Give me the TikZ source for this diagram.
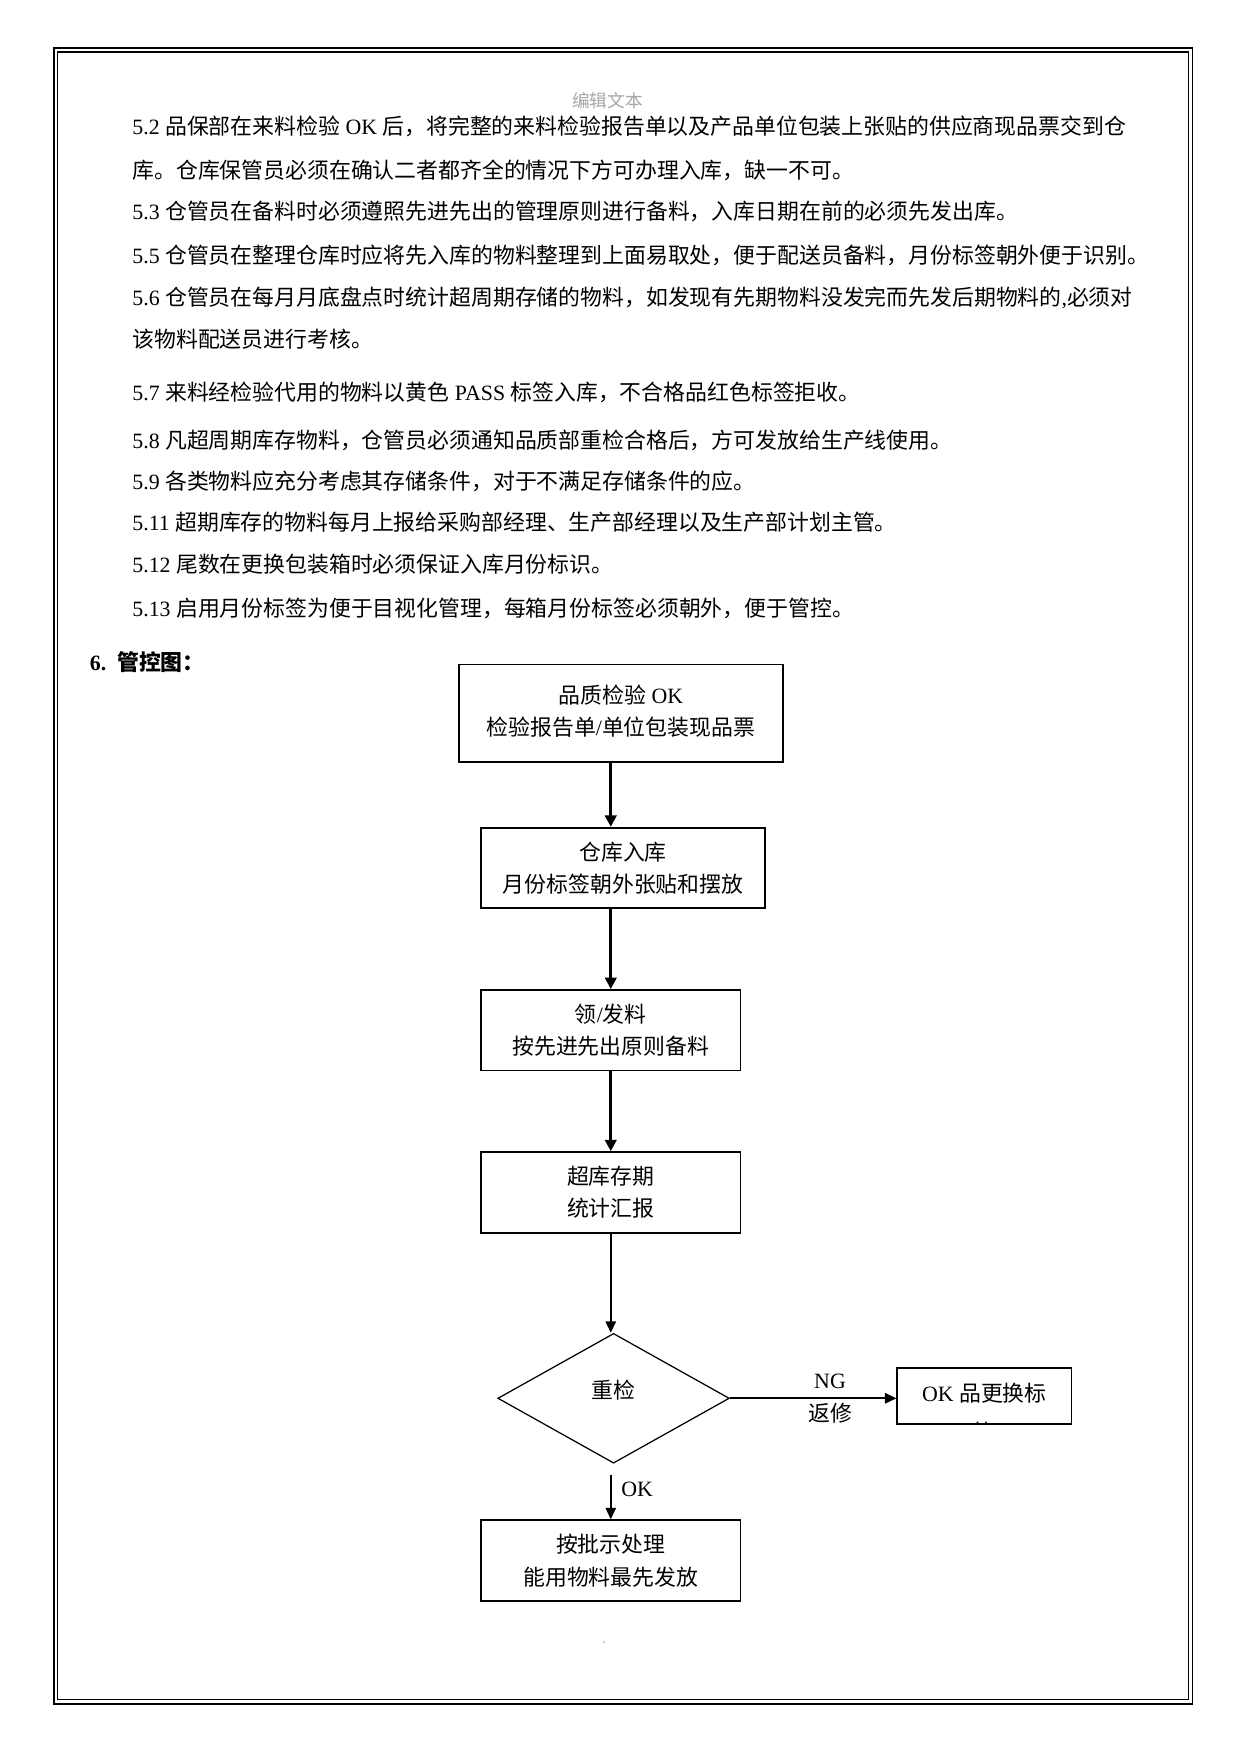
\documentclass[tikz,border=0pt]{standalone}
\usepackage{fontspec}
\setmainfont{Liberation Serif}
\newfontfamily\cjk{Noto Sans CJK SC}
\usetikzlibrary{shapes.geometric,arrows.meta}
\newcommand\zh[1]{{\cjk #1}}
\newdimen\pu \pu=0.5372pt
\tikzset{
  bodyline/.style={anchor=west,inner sep=0pt,font=\fontsize{10.5}{12}\selectfont},
  flowbox/.style={draw,line width=0.9pt,rectangle,inner sep=0pt,align=center,font=\fontsize{10.5}{15.6}\selectfont},
  thickarrow/.style={line width=1.5pt,-{Triangle[length=5.5pt,width=5.5pt]}},
  thinarrow/.style={line width=0.8pt,-{Triangle[length=5.5pt,width=5pt]}},
  lbl/.style={inner sep=0pt,font=\fontsize{10.5}{12}\selectfont}
}
\begin{document}
\begin{tikzpicture}[x=0.5372pt,y=-0.5372pt]
\useasboundingbox (0,0) rectangle (1109,1568);
% page border (double)
\draw[line width=0.9pt] (48,43) rectangle (1066,1523);
\draw[line width=0.5pt] (51.5,46.5) rectangle (1062.5,1519.5);
% header
\node[inner sep=0pt,text=black!35,font=\fontsize{8.5}{10}\selectfont] (hdr) at (543,90) {\zh{编辑文本}};
% body text
\node[bodyline] (t1) at (118,113) {5.2 \zh{品保部在来料检验} OK \zh{后，将完整的来料检验报告单以及产品单位包装上张贴的供应商现品票交到仓}};
\node[bodyline] (t2) at (118,152) {\zh{库。仓库保管员必须在确认二者都齐全的情况下方可办理入库，缺一不可。}};
\node[bodyline] (t3) at (118,189) {5.3 \zh{仓管员在备料时必须遵照先进先出的管理原则进行备料，入库日期在前的必须先发出库。}};
\node[bodyline] (t4) at (118,228) {5.5 \zh{仓管员在整理仓库时应将先入库的物料整理到上面易取处，便于配送员备料，月份标签朝外便于识别。}};
\node[bodyline] (t5) at (118,266) {5.6 \zh{仓管员在每月月底盘点时统计超周期存储的物料，如发现有先期物料没发完而先发后期物料的},\zh{必须对}};
\node[bodyline] (t6) at (118,303) {\zh{该物料配送员进行考核。}};
\node[bodyline] (t7) at (118,351) {5.7 \zh{来料经检验代用的物料以黄色} PASS \zh{标签入库，不合格品红色标签拒收。}};
\node[bodyline] (t8) at (118,394) {5.8 \zh{凡超周期库存物料，仓管员必须通知品质部重检合格后，方可发放给生产线使用。}};
\node[bodyline] (t9) at (118,430) {5.9 \zh{各类物料应充分考虑其存储条件，对于不满足存储条件的应。}};
\node[bodyline] (t10) at (118,467) {5.11 \zh{超期库存的物料每月上报给采购部经理、生产部经理以及生产部计划主管。}};
\node[bodyline] (t11) at (118,504) {5.12 \zh{尾数在更换包装箱时必须保证入库月份标识。}};
\node[bodyline] (t12) at (118,544) {5.13 \zh{启用月份标签为便于目视化管理，每箱月份标签必须朝外，便于管控。}};
% section heading
\node[bodyline,font=\fontsize{10.5}{12}\selectfont\bfseries] (sec) at (80,592) {6.\ \ {\cjk\bfseries 管控图：}};
% flow chart
\node[flowbox,minimum width=290\pu,minimum height=87\pu] (b1) at (555,637.5) {\raisebox{3pt}{\zh{品质检验} OK}\\\raisebox{3pt}{\zh{检验报告单}/\zh{单位包装现品票}}};
\node[flowbox,minimum width=254\pu,minimum height=72\pu] (b2) at (557,776) {\zh{仓库入库}\\\zh{月份标签朝外张贴和摆放}};
\node[flowbox,minimum width=232\pu,minimum height=72\pu] (b3) at (546,921) {\zh{领}/\zh{发料}\\\zh{按先进先出原则备料}};
\node[flowbox,minimum width=232\pu,minimum height=72\pu] (b4) at (546,1066) {\zh{超库存期}\\\zh{统计汇报}};
\node[draw,diamond,line width=0.6pt,inner sep=0pt,minimum width=207\pu,minimum height=116\pu,font=\fontsize{10.5}{12}\selectfont] (d1) at (548.5,1250) {\raisebox{9pt}{\zh{重检}}};
\node[draw,rectangle,line width=0.7pt,inner sep=0pt,minimum width=156\pu,minimum height=50\pu] (b5) at (880,1248) {};
\node[lbl] (b5t) at (880,1245) {OK \zh{品更换标}};
\begin{scope}
\clip (803,1223) rectangle (957,1272.5);
\node[lbl] (b5c) at (880,1280) {\zh{签}};
\end{scope}
\node[flowbox,minimum width=232\pu,minimum height=72\pu] (b6) at (546,1395) {\zh{按批示处理}\\\zh{能用物料最先发放}};
% connectors
\draw[thickarrow] (b1.south -| b3) -- (b2.north -| b3);
\draw[thickarrow] (b2.south -| b3) -- (b3.north);
\draw[thickarrow] (b3.south) -- (b4.north);
\draw[thinarrow] (b4.south) -- (b4.south |- d1.north);
\draw[thinarrow] (d1.east) -- (b5.west |- d1.east);
\node[lbl] (ng) at (742,1235) {NG};
\node[lbl] (fx) at (742,1263) {\zh{返修}};
\coordinate (okstart) at ([yshift=-10\pu]d1.south);
\draw[line width=0.7pt,-{Triangle[length=5.5pt,width=5pt]}] (okstart -| b6) -- (b6.north);
\node[lbl,anchor=west] (ok) at (555,1331) {OK};
\fill[black!40] (540,1468) circle (0.8);
\end{tikzpicture}
\end{document}
